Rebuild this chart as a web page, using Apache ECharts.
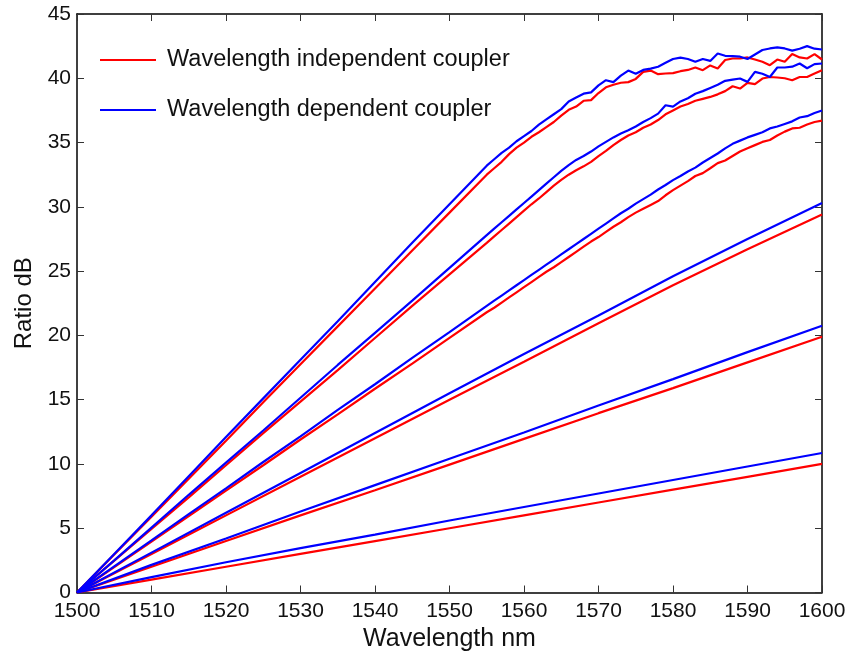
<!DOCTYPE html>
<html>
<head>
<meta charset="utf-8">
<script src="https://cdn.jsdelivr.net/npm/echarts@6/dist/echarts.min.js"></script>
<style>
  html, body { margin: 0; padding: 0; background: #fff; }
  #chart { width: 849px; height: 660px; }
</style>
</head>
<body>
<div id="chart"></div>
<script>
// Wavelength grids (nm)
const waveCoarse = [1500, 1510, 1520, 1530, 1540, 1550, 1560, 1570, 1580, 1590, 1600];
const waveFine = [1500, 1505, 1510, 1515, 1520, 1525, 1530, 1535, 1540, 1545, 1550, 1555,
  1556, 1557, 1558, 1559, 1560, 1561, 1562, 1563, 1564, 1565, 1566, 1567, 1568, 1569, 1570,
  1571, 1572, 1573, 1574, 1575, 1576, 1577, 1578, 1579, 1580, 1581, 1582, 1583, 1584, 1585,
  1586, 1587, 1588, 1589, 1590, 1591, 1592, 1593, 1594, 1595, 1596, 1597, 1598, 1599, 1600];

// Ratio (dB), wavelength independent coupler (red)
const indep0 = [0, 1.0, 2.0, 3.0, 4.0, 5.0, 6.0, 7.0, 8.0, 9.0, 10.0];
const indep1 = [0, 2.0, 4.0, 6.0, 7.95, 9.95, 11.95, 13.95, 15.9, 17.9, 19.9];
const indep2 = [0, 3.0, 6.0, 9.0, 12.0, 15.0, 17.95, 20.95, 23.9, 26.7, 29.4];
const indep3 = [0, 1.98, 3.96, 5.94, 7.92, 9.9, 11.9, 13.85, 15.85, 17.8, 19.8, 21.8,
  22.15, 22.55, 22.95, 23.35, 23.75, 24.15, 24.55, 24.95, 25.3, 25.7, 26.1, 26.5, 26.9, 27.3, 27.65,
  28.05, 28.45, 28.8, 29.2, 29.55, 29.85, 30.15, 30.45, 30.9, 31.3, 31.65, 32.0, 32.4, 32.62, 33.0,
  33.4, 33.6, 33.95, 34.3, 34.55, 34.8, 35.05, 35.2, 35.55, 35.85, 36.1, 36.15, 36.4, 36.6, 36.7];
const indep4 = [0, 2.48, 4.95, 7.4, 9.9, 12.4, 14.85, 17.3, 19.8, 22.3, 24.75, 27.2,
  27.7, 28.2, 28.7, 29.2, 29.7, 30.2, 30.65, 31.15, 31.65, 32.1, 32.5, 32.85, 33.15, 33.5, 33.95,
  34.35, 34.8, 35.2, 35.55, 35.8, 36.15, 36.4, 36.75, 37.2, 37.5, 37.8, 38.0, 38.25, 38.4, 38.55,
  38.75, 39.0, 39.38, 39.2, 39.64, 39.54, 39.98, 40.1, 40.06, 40.0, 39.85, 40.1, 40.1, 40.37, 40.63];
const indep5 = [0, 2.95, 5.9, 8.85, 11.8, 14.8, 17.75, 20.7, 23.65, 26.6, 29.55, 32.5,
  33.0, 33.5, 34.1, 34.6, 35.0, 35.45, 35.8, 36.2, 36.6, 37.1, 37.55, 37.8, 38.25, 38.3, 38.85,
  39.3, 39.5, 39.65, 39.7, 39.95, 40.5, 40.6, 40.32, 40.37, 40.4, 40.55, 40.65, 40.84, 40.63, 41.0,
  40.76, 41.42, 41.54, 41.54, 41.62, 41.46, 41.28, 41.02, 41.46, 41.28, 41.88, 41.62, 41.54, 41.88, 41.46];

// Ratio (dB), wavelength dependent coupler (blue)
const dep0 = [0, 1.2, 2.35, 3.45, 4.5, 5.6, 6.65, 7.7, 8.75, 9.8, 10.85];
const dep1 = [0, 2.15, 4.2, 6.3, 8.35, 10.4, 12.45, 14.55, 16.6, 18.7, 20.75];
const dep2 = [0, 3.1, 6.2, 9.3, 12.4, 15.5, 18.55, 21.55, 24.6, 27.5, 30.3];
const dep3 = [0, 2.03, 4.05, 6.1, 8.1, 10.15, 12.15, 14.2, 16.2, 18.25, 20.25, 22.3,
  22.7, 23.1, 23.5, 23.9, 24.3, 24.7, 25.1, 25.5, 25.9, 26.3, 26.7, 27.1, 27.5, 27.9, 28.3,
  28.7, 29.1, 29.5, 29.85, 30.25, 30.6, 30.95, 31.35, 31.7, 32.08, 32.4, 32.75, 33.05, 33.45, 33.8,
  34.15, 34.55, 34.9, 35.15, 35.4, 35.6, 35.8, 36.1, 36.25, 36.45, 36.65, 36.95, 37.05, 37.3, 37.5];
const dep4 = [0, 2.5, 5.05, 7.6, 10.1, 12.6, 15.15, 17.7, 20.2, 22.7, 25.25, 27.8,
  28.3, 28.8, 29.3, 29.8, 30.3, 30.8, 31.3, 31.8, 32.3, 32.8, 33.25, 33.65, 33.95, 34.3, 34.7,
  35.05, 35.4, 35.7, 35.95, 36.25, 36.6, 36.9, 37.25, 37.9, 37.8, 38.2, 38.45, 38.8, 39.0, 39.25,
  39.5, 39.8, 39.9, 39.98, 39.72, 40.5, 40.35, 40.1, 40.84, 40.84, 40.9, 41.15, 40.78, 41.1, 41.15];
const dep5 = [0, 3.0, 6.0, 9.05, 12.1, 15.1, 18.1, 21.1, 24.15, 27.2, 30.2, 33.2,
  33.7, 34.2, 34.6, 35.1, 35.5, 35.9, 36.4, 36.8, 37.2, 37.6, 38.2, 38.5, 38.8, 38.9, 39.45,
  39.85, 39.7, 40.2, 40.6, 40.35, 40.65, 40.75, 40.9, 41.2, 41.5, 41.6, 41.5, 41.28, 41.5, 41.35,
  41.93, 41.75, 41.72, 41.68, 41.5, 41.85, 42.2, 42.32, 42.4, 42.32, 42.15, 42.3, 42.5, 42.3, 42.24];

const xTicks = { min: 1500, max: 1600, interval: 10 };
const yTicks = { min: 0, max: 45, interval: 5 };

const NAME_INDEP = 'Wavelength independent coupler';
const NAME_DEP = 'Wavelength dependent coupler';
const RED = '#ff0000';
const BLUE = '#0000ff';
const FONT = 'Liberation Sans, Arial, Helvetica, sans-serif';

function pairs(xs, ys) {
  return ys.map((v, i) => [xs[i], v]);
}

const redSets = [
  pairs(waveCoarse, indep0), pairs(waveCoarse, indep1), pairs(waveCoarse, indep2),
  pairs(waveFine, indep3), pairs(waveFine, indep4), pairs(waveFine, indep5)
];
const blueSets = [
  pairs(waveCoarse, dep0), pairs(waveCoarse, dep1), pairs(waveCoarse, dep2),
  pairs(waveFine, dep3), pairs(waveFine, dep4), pairs(waveFine, dep5)
];

function lineSeries(name, color, data) {
  return {
    name: name,
    type: 'line',
    data: data,
    xAxisIndex: 0,
    yAxisIndex: 0,
    showSymbol: false,
    symbol: 'none',
    animation: false,
    lineStyle: { color: color, width: 2.2 },
    itemStyle: { color: color },
    z: 3
  };
}

const series = [];
redSets.forEach(d => series.push(lineSeries(NAME_INDEP, RED, d)));
blueSets.forEach(d => series.push(lineSeries(NAME_DEP, BLUE, d)));

const axisLine = { show: true, onZero: false, lineStyle: { color: '#000', width: 1.5 } };
const tickStyle = { show: true, inside: true, length: 7, lineStyle: { color: '#333', width: 1 } };
const labelStyle = { color: '#111', fontSize: 21, fontFamily: FONT, formatter: v => String(v) };

const chart = echarts.init(document.getElementById('chart'), null, { renderer: 'canvas' });
chart.setOption({
  backgroundColor: '#fff',
  animation: false,
  grid: { left: 77, right: 27, top: 14, bottom: 67.5, containLabel: false },
  legend: {
    data: [NAME_INDEP, NAME_DEP],
    orient: 'vertical',
    left: 95,
    top: 43,
    itemWidth: 56,
    itemHeight: 2,
    itemGap: 26,
    icon: 'rect',
    selectedMode: false,
    textStyle: { color: '#111', fontSize: 23.5, fontFamily: FONT, lineHeight: 24, padding: [0, 0, 0, 6] }
  },
  xAxis: [
    {
      type: 'value', position: 'bottom', min: xTicks.min, max: xTicks.max, interval: xTicks.interval,
      axisLine: axisLine, axisTick: tickStyle, splitLine: { show: false },
      axisLabel: Object.assign({ margin: 8 }, labelStyle),
      name: 'Wavelength nm', nameLocation: 'middle', nameGap: 32,
      nameTextStyle: { color: '#111', fontSize: 25, fontFamily: FONT }
    },
    {
      type: 'value', position: 'top', min: xTicks.min, max: xTicks.max, interval: xTicks.interval,
      axisLine: axisLine, axisTick: tickStyle, splitLine: { show: false }, axisLabel: { show: false }
    }
  ],
  yAxis: [
    {
      type: 'value', position: 'left', min: yTicks.min, max: yTicks.max, interval: yTicks.interval,
      axisLine: axisLine, axisTick: tickStyle, splitLine: { show: false },
      axisLabel: Object.assign({ margin: 6 }, labelStyle),
      name: 'Ratio dB', nameLocation: 'middle', nameGap: 40, nameRotate: 90,
      nameTextStyle: { color: '#111', fontSize: 24, fontFamily: FONT }
    },
    {
      type: 'value', position: 'right', min: yTicks.min, max: yTicks.max, interval: yTicks.interval,
      axisLine: axisLine, axisTick: tickStyle, splitLine: { show: false }, axisLabel: { show: false }
    }
  ],
  series: series
});
</script>
</body>
</html>
